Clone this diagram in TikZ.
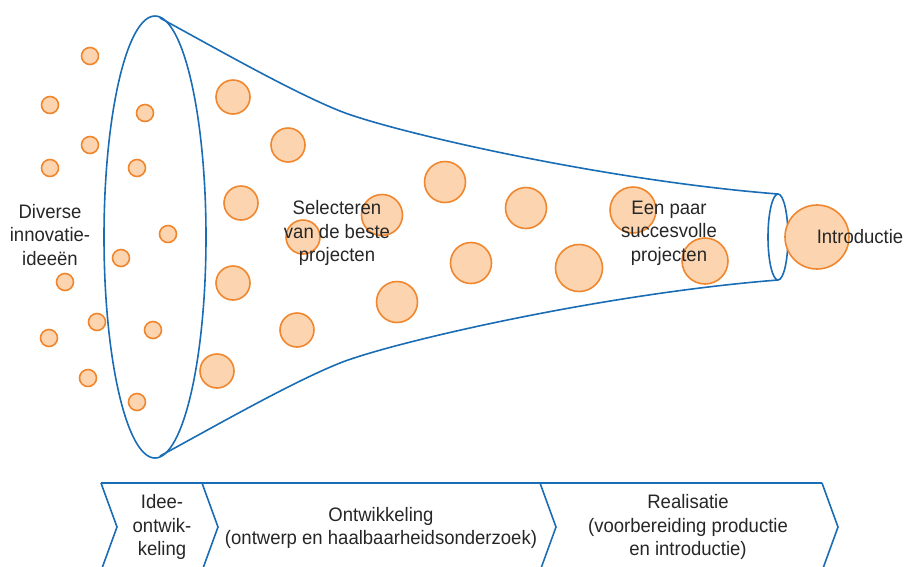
\documentclass[tikz,border=0pt]{standalone}
\usepackage{fontspec}
\setmainfont[FakeStretch=0.95]{Liberation Sans}
\usepackage{tikz}
\usetikzlibrary{positioning}

\definecolor{funnelblue}{HTML}{1A6DB5}
\definecolor{ideaorange}{HTML}{F0872F}
\definecolor{ideafill}{HTML}{FCD5B0}
\definecolor{textgray}{HTML}{262626}

\tikzset{
  idea/.style={circle,draw=ideaorange,fill=ideafill,line width=1.6pt,inner sep=0pt},
  caption/.style={align=center,text=textgray,font=\fontsize{19.5}{23.5}\selectfont},
  funnel/.style={draw=funnelblue,line width=1.6pt}
}

\begin{document}
\begin{tikzpicture}[x=1pt,y=-1pt]
  \useasboundingbox (0,0) rectangle (905,566);
  % funnel
  \draw[funnel] (160,18) .. controls (210,45) and (290,91) .. (340,111)
    .. controls (390,131) and (600,180) .. (778,194);
  \draw[funnel] (160,456) .. controls (210,429) and (290,383) .. (340,363)
    .. controls (390,343) and (600,294) .. (778,280);
  \draw[funnel] (155,237) ellipse [x radius=51, y radius=221];
  \draw[funnel] (778,237) ellipse [x radius=10, y radius=43];
  % ideas
  \foreach \x/\y [count=\i] in {90/56,50/105,145/113,90/145,50/168,137/168,
    168/234,121/258,65/282,97/322,49/338,153/330,88/378,137/402}
    \node[idea,minimum size=17] (s\i) at (\x,\y) {};
  \foreach \x/\y [count=\i] in {233/97,288/145,241/203,233/283,217/371,
    303/237,297/330}
    \node[idea,minimum size=34] (m\i) at (\x,\y) {};
  \foreach \x/\y [count=\i] in {382/215,445/182,526/208,471/263,397/302}
    \node[idea,minimum size=41] (l\i) at (\x,\y) {};
  \node[idea,minimum size=47] (b1) at (579,268) {};
  \node[idea,minimum size=46] (b2) at (633,210) {};
  \node[idea,minimum size=46] (b3) at (705,261) {};
  \node[idea,minimum size=64] (intro) at (817,237) {};
  % texts
  \node[caption] (diverse) at (50,235) {Diverse\\innovatie-\\ideeën};
  \node[caption] (select) at (337,233) {Selecteren\\van de beste\\projecten};
  \node[caption] (paar) at (669,233) {Een paar\\succesvolle\\projecten};
  \node[caption] (introtext) at (860,237) {Introductie};
  % phases
  \draw[funnel] (101,483) -- (822,483);
  \foreach \x in {101,202,540,822}
    \draw[funnel] (\x,483) -- (\x+16,527) -- (\x,571);
  \node[caption] (idee) at (162,527) {Idee-\\ontwik-\\keling};
  \node[caption] (ontw) at (381,528) {Ontwikkeling\\(ontwerp en haalbaarheidsonderzoek)};
  \node[caption] (real) at (688,527) {Realisatie\\(voorbereiding productie\\en introductie)};
\end{tikzpicture}
\end{document}
